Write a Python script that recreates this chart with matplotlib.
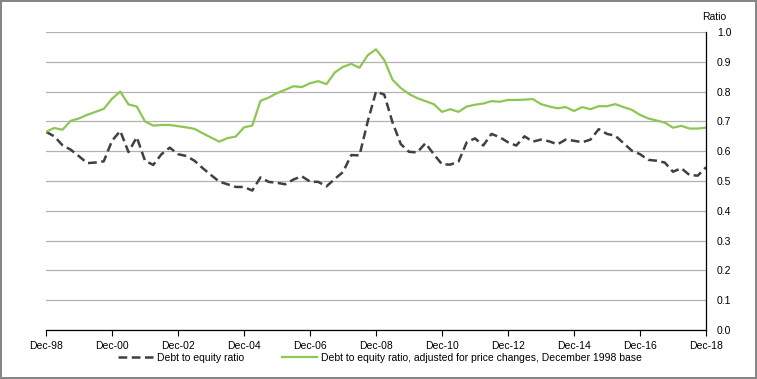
import matplotlib
matplotlib.use("Agg")
import matplotlib.pyplot as plt
import numpy as np

# quarterly, Dec-98 .. Dec-18
tick_labels = ["Dec-98", "Dec-00", "Dec-02", "Dec-04", "Dec-06", "Dec-08",
               "Dec-10", "Dec-12", "Dec-14", "Dec-16", "Dec-18"]

debt_equity = [
    0.665, 0.650, 0.620, 0.605, 0.583, 0.560, 0.562, 0.566, 0.635, 0.668,
    0.597, 0.647, 0.568, 0.554, 0.590, 0.612, 0.590, 0.584, 0.568, 0.543,
    0.520, 0.498, 0.489, 0.480, 0.480, 0.468, 0.512, 0.497, 0.494, 0.489,
    0.505, 0.516, 0.498, 0.497, 0.482, 0.507, 0.530, 0.587, 0.586, 0.700,
    0.800, 0.790, 0.697, 0.624, 0.598, 0.596, 0.627, 0.590, 0.556, 0.555,
    0.565, 0.630, 0.643, 0.619, 0.658, 0.647, 0.630, 0.619, 0.650, 0.632,
    0.639, 0.633, 0.623, 0.639, 0.635, 0.630, 0.639, 0.674, 0.658, 0.652,
    0.627, 0.602, 0.590, 0.571, 0.568, 0.562, 0.531, 0.543, 0.520, 0.518,
    0.546,
]

debt_equity_adj = [
    0.665, 0.678, 0.672, 0.702, 0.710, 0.722, 0.732, 0.742, 0.776, 0.800,
    0.757, 0.750, 0.700, 0.686, 0.688, 0.688, 0.684, 0.680, 0.675, 0.660,
    0.646, 0.632, 0.644, 0.649, 0.680, 0.686, 0.769, 0.780, 0.795, 0.806,
    0.818, 0.815, 0.828, 0.835, 0.825, 0.864, 0.883, 0.893, 0.880, 0.922,
    0.942, 0.906, 0.840, 0.812, 0.792, 0.778, 0.768, 0.758, 0.732, 0.741,
    0.732, 0.750, 0.756, 0.760, 0.768, 0.766, 0.772, 0.772, 0.773, 0.775,
    0.758, 0.750, 0.744, 0.748, 0.735, 0.748, 0.741, 0.751, 0.751, 0.758,
    0.748, 0.739, 0.722, 0.710, 0.703, 0.696, 0.679, 0.685, 0.676, 0.676,
    0.679,
]

plt.rcParams['font.family'] = ['Liberation Sans Narrow', 'Liberation Sans', 'DejaVu Sans']

fig = plt.figure(figsize=(7.57, 3.79), dpi=100)
fig.patch.set_edgecolor('#868686')
fig.patch.set_linewidth(1.5)
ax = fig.add_axes([46 / 757, 49 / 379, 660 / 757, 298 / 379])

x = np.arange(len(debt_equity))
ax.plot(x, debt_equity, color='#404040', linewidth=1.8, dashes=(3.5, 1.8),
        label='Debt to equity ratio')
ax.plot(x, debt_equity_adj, color='#8dc653', linewidth=1.6,
        label='Debt to equity ratio, adjusted for price changes, December 1998 base')

ax.set_xlim(0, len(x) - 1)
ax.set_ylim(0, 1.0)
ax.set_xticks(np.arange(0, len(x), 8))
ax.set_xticklabels(tick_labels)
ax.set_yticks(np.arange(0, 1.01, 0.1))
ax.set_yticklabels([f"{v:.1f}" for v in np.arange(0, 1.01, 0.1)])

ax.yaxis.tick_right()
ax.tick_params(axis='y', length=0, pad=8, labelsize=7.5)
ax.tick_params(axis='x', length=4, width=0.8, direction='out', pad=4, labelsize=7.5)
ax.grid(axis='y', color='#b3b3b3', linewidth=0.9)
ax.set_axisbelow(True)
for side in ['top', 'left']:
    ax.spines[side].set_visible(False)
ax.spines['right'].set_color('black')
ax.spines['bottom'].set_color('black')
ax.spines['right'].set_linewidth(0.9)
ax.spines['bottom'].set_linewidth(0.9)

fig.text(714 / 757, 1 - 17 / 379, 'Ratio', ha='center', va='center', fontsize=7.5)

fig.legend(loc='center', bbox_to_anchor=(380 / 757, 1 - 358 / 379), ncol=2,
           frameon=False, fontsize=7.5, handlelength=3.4, columnspacing=3.6,
           handletextpad=0.4)

fig.savefig('out.png', dpi=100)
